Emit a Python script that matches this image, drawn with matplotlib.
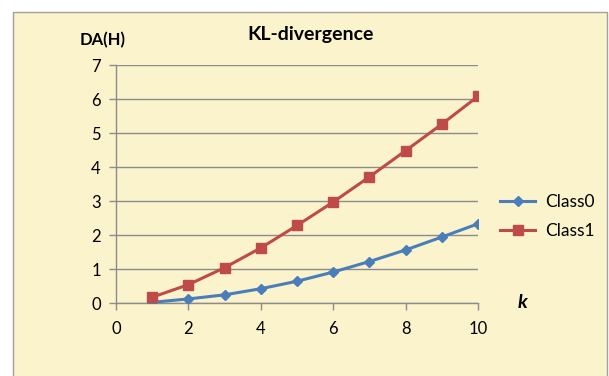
import matplotlib.pyplot as plt
from matplotlib.patches import Rectangle

plt.rcParams['font.family'] = ['Lato', 'DejaVu Sans']

k = [1, 2, 3, 4, 5, 6, 7, 8, 9, 10]
class0 = [0.02, 0.12, 0.24, 0.42, 0.64, 0.91, 1.22, 1.56, 1.94, 2.33]
class1 = [0.17, 0.54, 1.04, 1.62, 2.28, 2.97, 3.71, 4.48, 5.26, 6.08]

bg = '#FBF3CB'
grid_col = '#8C8C8C'

fig = plt.figure(figsize=(6.09, 3.76), dpi=100)
fig.patch.set_facecolor('white')
# chart area frame, kept behind the axes
fig.patches.append(Rectangle((13 / 609, -0.05), 594 / 609, 1 - 12 / 376 + 0.05,
                             transform=fig.transFigure, facecolor=bg,
                             edgecolor='#A0A0A0', linewidth=1.0, zorder=-10))

ax = fig.add_axes([116 / 609, 1 - 303 / 376, 362 / 609, 238 / 376])
ax.set_facecolor('none')

ax.plot(k, class0, color='#4A7EBB', linewidth=2.2, marker='D', markersize=5.5,
        label='Class0', zorder=3)
ax.plot(k, class1, color='#BE4B48', linewidth=2.2, marker='s', markersize=7,
        label='Class1', zorder=3)

ax.set_xlim(0, 10)
ax.set_ylim(0, 7)
ax.set_xticks(range(0, 11, 2))
ax.set_yticks(range(0, 8))
ax.yaxis.grid(True, color=grid_col, linewidth=1.0)
ax.set_axisbelow(True)
for s in ['top', 'right']:
    ax.spines[s].set_visible(False)
for s in ['left', 'bottom']:
    ax.spines[s].set_color(grid_col)
    ax.spines[s].set_linewidth(1.0)
ax.tick_params(axis='both', colors=grid_col, labelcolor='black', labelsize=12,
               length=5, width=1.0)
ax.tick_params(axis='y', pad=6)
ax.tick_params(axis='x', pad=8)

fig.text(0.51, 0.908, 'KL-divergence', ha='center', va='center',
         fontsize=14, fontweight='bold')
fig.text(0.169, 0.893, 'DA(H)', ha='center', va='center',
         fontsize=12, fontweight='bold')
fig.text(0.858, 0.195, 'k', ha='center', va='center',
         fontsize=14, fontweight='bold', fontstyle='italic')

ax.legend(loc='center left', bbox_to_anchor=(1.018, 0.363), frameon=False,
          fontsize=12.5, handlelength=2.0, handletextpad=0.6, labelspacing=0.75)

fig.savefig('out.png', dpi=100, facecolor=fig.get_facecolor())
